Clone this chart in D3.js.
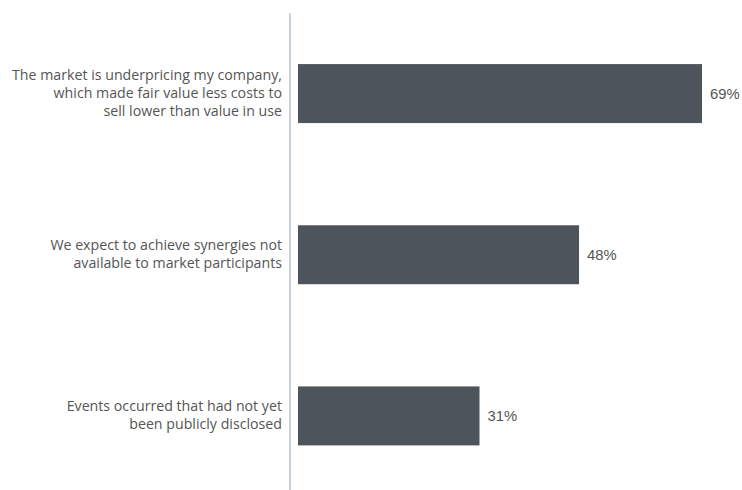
<!DOCTYPE html>
<html><head><meta charset="utf-8">
<script src="https://cdn.jsdelivr.net/npm/d3@7"></script>
<style>body{margin:0;background:#fff}svg{display:block}</style>
</head><body>
<script>
const categories = [
  ["The market is underpricing my company,", "which made fair value less costs to", "sell lower than value in use"],
  ["We expect to achieve synergies not", "available to market participants"],
  ["Events occurred that had not yet", "been publicly disclosed"]
];
const values = [69, 48, 31];
const valueLabels = ["69%", "48%", "31%"];

const W = 742, H = 490;
const svg = d3.select("body").append("svg").attr("width", W).attr("height", H);
const ids = categories.map((c, i) => i);
const y = d3.scaleBand().domain(ids).range([13, 496.5]).paddingInner(0.634).paddingOuter(0.317);
const x = d3.scaleLinear().domain([0, 69]).range([298, 702]);

svg.append("line").attr("x1", 290).attr("x2", 290).attr("y1", 13).attr("y2", H)
  .attr("stroke", "#aab9c9").attr("stroke-width", 1.3);

svg.selectAll("rect.bar").data(values).join("rect").attr("class", "bar")
  .attr("x", x(0)).attr("y", (d, i) => y(i))
  .attr("width", d => x(d) - x(0)).attr("height", y.bandwidth())
  .attr("fill", "#4d545c");

svg.selectAll("text.val").data(values).join("text").attr("class", "val")
  .attr("x", d => x(d) + 8).attr("y", (d, i) => y(i) + y.bandwidth() / 2)
  .attr("dy", "0.35em")
  .attr("font-family", "Liberation Sans, Arial, sans-serif").attr("font-size", 14.8)
  .attr("fill", "#555")
  .text((d, i) => valueLabels[i]);

const lh = 18;
const g = svg.selectAll("text.cat").data(categories).join("text").attr("class", "cat")
  .attr("text-anchor", "end")
  .attr("font-family", "Open Sans, sans-serif").attr("font-size", 14.2)
  .attr("fill", "#555");
g.each(function(lines, i) {
  const cy = y(i) + y.bandwidth() / 2;
  const start = cy - (lines.length - 1) * lh / 2 + 4;
  d3.select(this).selectAll("tspan").data(lines).join("tspan")
    .attr("x", 282).attr("y", (d, j) => start + j * lh).text(d => d);
});
</script>
</body></html>
